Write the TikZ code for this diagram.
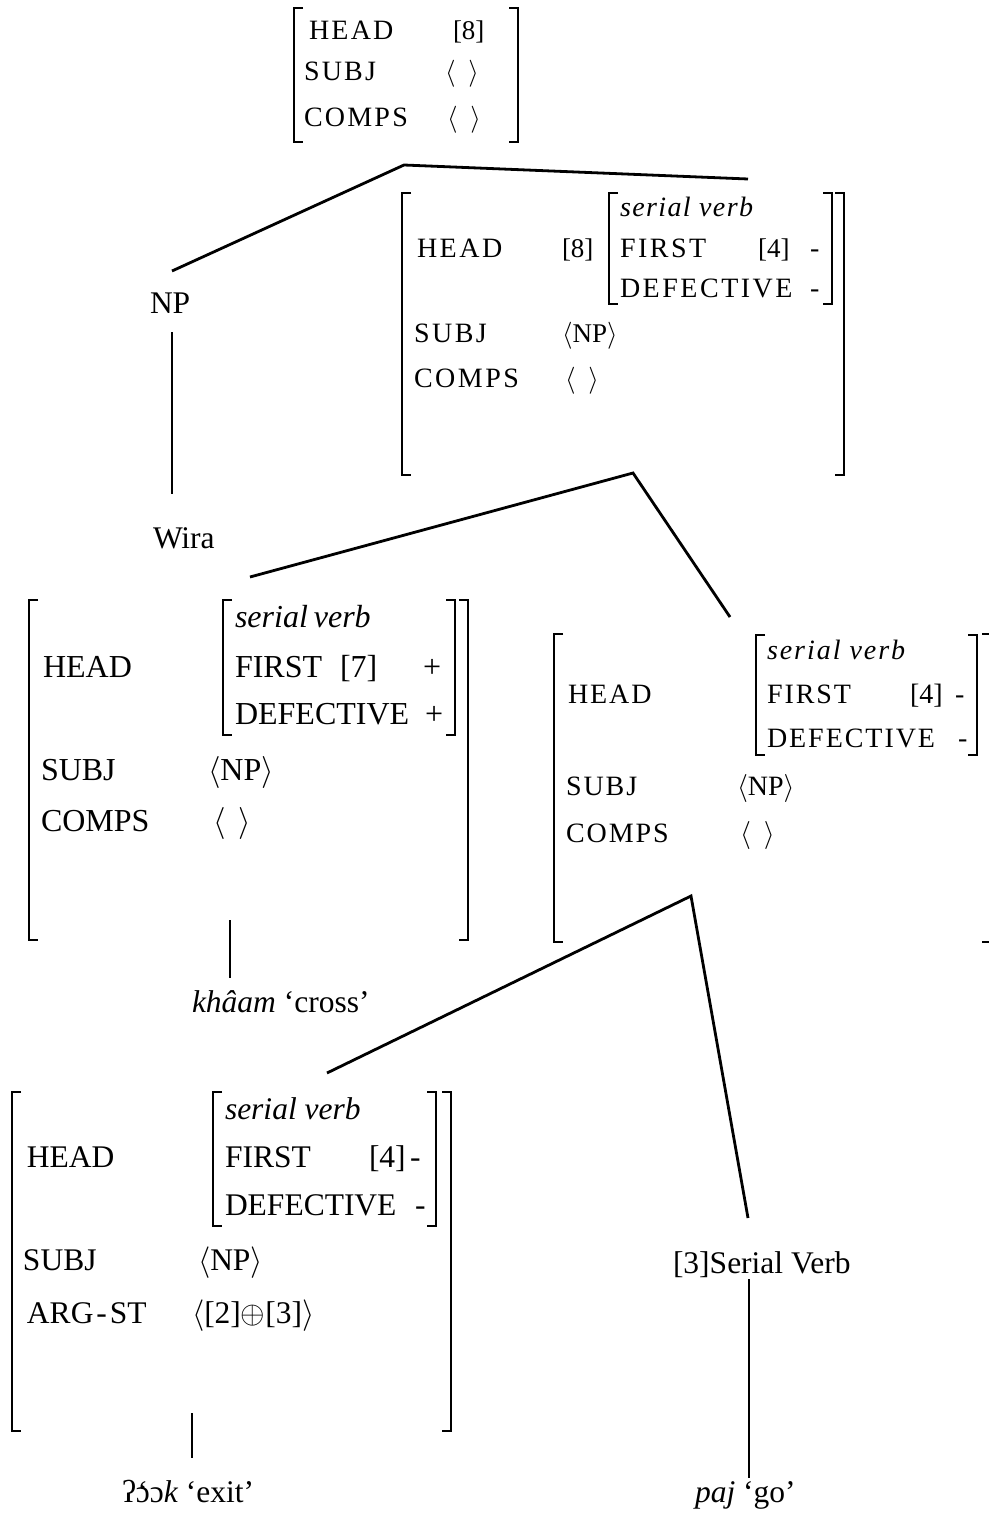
\documentclass[tikz,border=0pt]{standalone}
\usepackage{fontspec}
\setmainfont{Liberation Serif}
\newfontfamily\spcA[LetterSpace=8]{Liberation Serif}
\newfontfamily\spcV[LetterSpace=9]{Liberation Serif}
\newfontfamily\spcI[LetterSpace=5]{Liberation Serif}
\newfontfamily\spcB[LetterSpace=7]{Liberation Serif}
\DeclareFontFamily{OMS}{cmsy}{\skewchar\font48 }
\DeclareFontShape{OMS}{cmsy}{m}{n}{<->cmsy10}{}
\DeclareFontShape{OMS}{cmsy}{b}{n}{<->cmbsy10}{}
\newcommand\LBr[3]{\draw[brk] (#1+9,#2) -- (#1,#2) -- (#1,#3) -- (#1+9,#3);}
\newcommand\RBr[3]{\draw[brk] (#1-9,#2) -- (#1,#2) -- (#1,#3) -- (#1-9,#3);}
\newcommand\emptylist[1]{\(\langle\)\hspace{#1}\(\rangle\)}
\begin{document}
\begin{tikzpicture}[x=1pt,y=-1pt,
  tx/.style={anchor=base west,inner sep=0pt,outer sep=0pt},
  brk/.style={line width=1.5pt},
  tree/.style={line width=2.8pt},
  fTop/.style={font=\fontsize{28}{32}\selectfont\spcA},
  fVP/.style={font=\fontsize{28}{32}\selectfont\spcV},
  fR/.style={font=\fontsize{28}{32}\selectfont\spcB},
  fN/.style={font=\fontsize{32}{36}\selectfont},
  fL/.style={font=\fontsize{31.5}{36}\selectfont},
  plain/.style={font=\fontsize{27}{30}\selectfont\rmfamily},
  plainR/.style={font=\fontsize{28}{32}\selectfont\rmfamily}]
\useasboundingbox (0,0) rectangle (988,1520);
\fill[white] (0,0) rectangle (988,1520);

% ---------- top box ----------
\begin{scope}[every node/.style={tx,fTop}]
\node (t0h)  at (309,40)  {HEAD};
\node[plain] (t0hv) at (453,40)  {[8]};
\node (t0s)  at (304,81)  {SUBJ};
\node[plain] (t0sv) at (445,81)  {\emptylist{13pt}};
\node (t0c)  at (304,126) {COMPS};
\node[plain] (t0cv) at (447,126) {\emptylist{13pt}};
\end{scope}
\LBr{294}{8}{142}
\RBr{518}{8}{142}

% ---------- VP box ----------
\begin{scope}[every node/.style={tx,fVP}]
\node[font=\fontsize{28}{32}\selectfont\spcI] (v1sv) at (620,216) {\itshape serial verb};
\node (v1h)  at (417,257) {HEAD};
\node[plain] (v1hv) at (562,257) {[8]};
\node (v1f)  at (620,257) {FIRST};
\node[plain] (v1fv) at (758,257) {[4]};
\node (v1fm) at (810,257) {-};
\node (v1d)  at (620,297) {DEFECTIVE};
\node (v1dm) at (810,297) {-};
\node (v1s)  at (414,342) {SUBJ};
\node[plain] (v1sl) at (562,342) {\(\langle\)NP\(\rangle\)};
\node (v1c)  at (414,387) {COMPS};
\node[plain] (v1cl) at (565,387) {\emptylist{13pt}};
\end{scope}
\LBr{402}{193}{475}
\RBr{844}{193}{475}
\LBr{609}{193}{304}
\RBr{832}{193}{304}

% ---------- left box (khaam) ----------
\begin{scope}[every node/.style={tx,fN}]
\node (l1sv) at (235,627) {\itshape serial\kern-2pt{} verb};
\node (l1h)  at (43,677)  {HEAD};
\node (l1f)  at (235,677) {FIRST};
\node (l1fv) at (340,677) {[7]};
\node (l1fp) at (423,677) {+};
\node (l1d)  at (235,724) {DEFECTIVE};
\node (l1dp) at (425,724) {+};
\node (l1s)  at (41,780)  {SUBJ};
\node (l1sl) at (208,780) {\(\langle\)NP\(\rangle\)};
\node (l1c)  at (41,831)  {COMPS};
\node (l1cl) at (213,831) {\emptylist{13pt}};
\end{scope}
\LBr{29}{600}{940}
\RBr{468}{600}{940}
\LBr{223}{600}{735}
\RBr{455}{600}{735}

% ---------- right box ----------
\begin{scope}[every node/.style={tx,fR}]
\node (r1sv) at (767,659) {\itshape serial verb};
\node (r1h)  at (568,703) {HEAD};
\node (r1f)  at (767,703) {FIRST};
\node[plainR] (r1fv) at (910,703) {[4]};
\node (r1fm) at (955,703) {-};
\node (r1d)  at (767,747) {DEFECTIVE};
\node (r1dm) at (958,747) {-};
\node (r1s)  at (566,795) {SUBJ};
\node[plainR] (r1sl) at (737,795) {\(\langle\)NP\(\rangle\)};
\node (r1c)  at (566,842) {COMPS};
\node[plainR] (r1cl) at (740,842) {\emptylist{13pt}};
\end{scope}
\LBr{554}{634}{942}
\RBr{991}{634}{942}
\LBr{756}{635}{755}
\RBr{977}{635}{755}

% ---------- bottom box ----------
\begin{scope}[every node/.style={tx,fL}]
\node (b1sv) at (225,1119) {\itshape serial verb};
\node (b1h)  at (27,1167)  {HEAD};
\node (b1f)  at (225,1167) {FIRST};
\node (b1fv) at (369,1167) {[4]};
\node (b1fm) at (410,1167) {-};
\node (b1d)  at (225,1215) {DEFECTIVE};
\node (b1dm) at (415,1215) {-};
\node (b1s)  at (23,1270)  {SUBJ};
\node (b1sl) at (198,1270) {\(\langle\)NP\(\rangle\)};
\node (b1a)  at (27,1323)  {ARG\kern3pt-\kern3pt ST};
\node (b1al) at (192,1323) {\(\langle\)[2]\(\oplus\)[3]\(\rangle\)};
\end{scope}
\LBr{12}{1092}{1431}
\RBr{451}{1092}{1431}
\LBr{213}{1092}{1226}
\RBr{436}{1092}{1226}

% ---------- tree labels ----------
\begin{scope}[every node/.style={tx,fL}]
\node (np)   at (150,313)  {NP};
\node (wira) at (153,548)  {Wira};
\node (khaam) at (192,1012) {\itshape khâam\upshape{} ‘cross’};
\node (sv3)  at (673,1273) {[3]Serial Verb};
\node (ook)  at (122,1502) {ʔ{\accent"60 ɔ}ɔ\itshape k\upshape{} ‘exit’};
\node (paj)  at (695,1502) {\itshape paj\upshape{} ‘go’};
\end{scope}

% ---------- tree connectors ----------
\coordinate (a0) at (404,165);
\coordinate (a0l) at (172,271);
\coordinate (a0r) at (748,179);
\coordinate (npb) at (172,332);
\coordinate (wirat) at (172,494);
\coordinate (a1) at (633,473);
\coordinate (a1l) at (250,577);
\coordinate (a1r) at (730,617);
\coordinate (kt) at (230,920);
\coordinate (kb) at (230,978);
\coordinate (a2) at (691,896);
\coordinate (a2l) at (327,1073);
\coordinate (a2r) at (748,1218);
\coordinate (ot) at (192,1413);
\coordinate (ob) at (192,1458);
\coordinate (st) at (749,1279);
\coordinate (sb) at (749,1478);
\draw[tree] (a0l) -- (a0) -- (a0r);
\draw[tree] (npb) -- (wirat);
\draw[tree] (a1l) -- (a1) -- (a1r);
\draw[tree] (kt) -- (kb);
\draw[tree] (a2l) -- (a2) -- (a2r);
\draw[tree] (ot) -- (ob);
\draw[tree] (st) -- (sb);
\end{tikzpicture}
\end{document}
